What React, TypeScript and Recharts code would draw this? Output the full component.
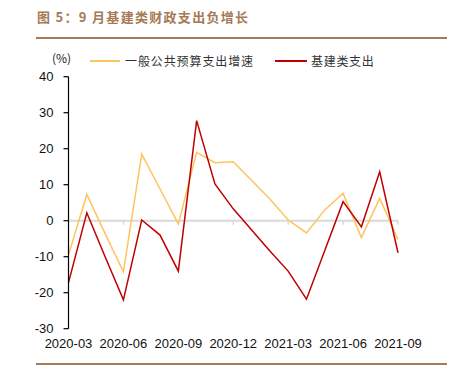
import React from 'react';
import { LineChart, Line, XAxis, YAxis, ReferenceLine, Legend } from 'recharts';

const months = [
  '2020-03', '2020-04', '2020-05', '2020-06', '2020-07', '2020-08', '2020-09', '2020-10', '2020-11', '2020-12',
  '2021-01', '2021-02', '2021-03', '2021-04', '2021-05', '2021-06', '2021-07', '2021-08', '2021-09',
];
const budgetGrowth = [-9.5, 7.3, -3.6, -14.2, 18.5, 8.8, -0.9, 19.0, 16.1, 16.4, null, 6.0, 0.2, -3.4, 3.0, 7.6, -4.7, 6.2, -5.2];
const infraSpending = [-17.2, 2.2, -10.0, -22.0, 0.2, -4.0, -14.0, 27.8, 10.2, 3.3, null, -8.4, -14.0, -21.8, -8.3, 5.3, -1.7, 13.6, -8.9];
const xTicks = ['2020-03', '2020-06', '2020-09', '2020-12', '2021-03', '2021-06', '2021-09'];
const yTicks = [-30, -20, -10, 0, 10, 20, 30, 40];
const seriesNames = ['一般公共预算支出增速', '基建类支出'];
const title = '图 5：9 月基建类财政支出负增长';
const unitLabel = '(%)';

const YELLOW = '#FFC45C';
const RED = '#C00000';
const BROWN = '#A57A55';

const data = months.map((m, i) => ({ month: m, budget: budgetGrowth[i], infra: infraSpending[i] }));

const cjk = '"Noto Sans CJK SC", sans-serif';

const renderLegend = () => (
  <div style={{ position: 'relative', width: 451, height: 0 }}>
    <span style={{ position: 'absolute', left: 52, top: 51, fontSize: 12, fontFamily: cjk, color: '#222', lineHeight: '14px', whiteSpace: 'nowrap' }}>{unitLabel}</span>
    <span style={{ position: 'absolute', left: 90, top: 60, width: 30, height: 1.5, background: YELLOW }} />
    <span style={{ position: 'absolute', left: 125, top: 53, fontSize: 12, fontFamily: cjk, color: '#333', lineHeight: '16px', letterSpacing: 0.9, whiteSpace: 'nowrap' }}>{seriesNames[0]}</span>
    <span style={{ position: 'absolute', left: 275, top: 60, width: 32, height: 1.5, background: RED }} />
    <span style={{ position: 'absolute', left: 311, top: 53, fontSize: 12, fontFamily: cjk, color: '#333', lineHeight: '16px', letterSpacing: 0.7, whiteSpace: 'nowrap' }}>{seriesNames[1]}</span>
  </div>
);

export default function App() {
  return (
    <div style={{ position: 'absolute', left: 0, top: 0, width: 451, height: 373, background: '#fff', overflow: 'hidden' }}>
      <div style={{ position: 'absolute', left: 37, top: 8, fontSize: 13, fontWeight: 700, fontFamily: cjk, color: BROWN, letterSpacing: 1.3, lineHeight: '18px', whiteSpace: 'pre' }}>{title}</div>
      <div style={{ position: 'absolute', left: 36, top: 37, width: 411, height: 1.5, background: BROWN }} />
      <div style={{ position: 'absolute', left: 36, top: 363, width: 411, height: 1.5, background: BROWN }} />
      <LineChart width={451} height={373} data={data} margin={{ top: 76.7, right: 53, bottom: 14.3, left: 0 }}>
        <Legend verticalAlign="top" content={renderLegend} wrapperStyle={{ left: 0, top: 0, width: 451, height: 0 }} />
        <XAxis
          dataKey="month"
          ticks={xTicks}
          interval={0}
          axisLine={false}
          tickLine={false}
          tickSize={0}
          tickMargin={10}
          height={30}
          tick={{ fontSize: 13, fill: '#111', fontFamily: '"Liberation Sans", Arial, sans-serif' }}
        />
        <YAxis
          domain={[-30, 40]}
          ticks={yTicks}
          interval={0}
          width={68.5}
          axisLine={{ stroke: '#000', strokeWidth: 1.2 }}
          tickLine={{ stroke: '#000', strokeWidth: 1.2 }}
          tickSize={5}
          tickMargin={10}
          tick={{ fontSize: 13, fill: '#111', fontFamily: '"Liberation Sans", Arial, sans-serif' }}
        />
        <ReferenceLine y={0} stroke="#D9D9D9" strokeWidth={2} />
        {xTicks.slice(1).map((t) => (
          <ReferenceLine key={t} segment={[{ x: t, y: 0 }, { x: t, y: -1.1 }]} stroke="#D9D9D9" strokeWidth={1.5} />
        ))}
        <Line type="linear" dataKey="budget" name={seriesNames[0]} stroke={YELLOW} strokeWidth={1.5} dot={false} connectNulls isAnimationActive={false} />
        <Line type="linear" dataKey="infra" name={seriesNames[1]} stroke={RED} strokeWidth={1.5} dot={false} connectNulls isAnimationActive={false} />
      </LineChart>
    </div>
  );
}
